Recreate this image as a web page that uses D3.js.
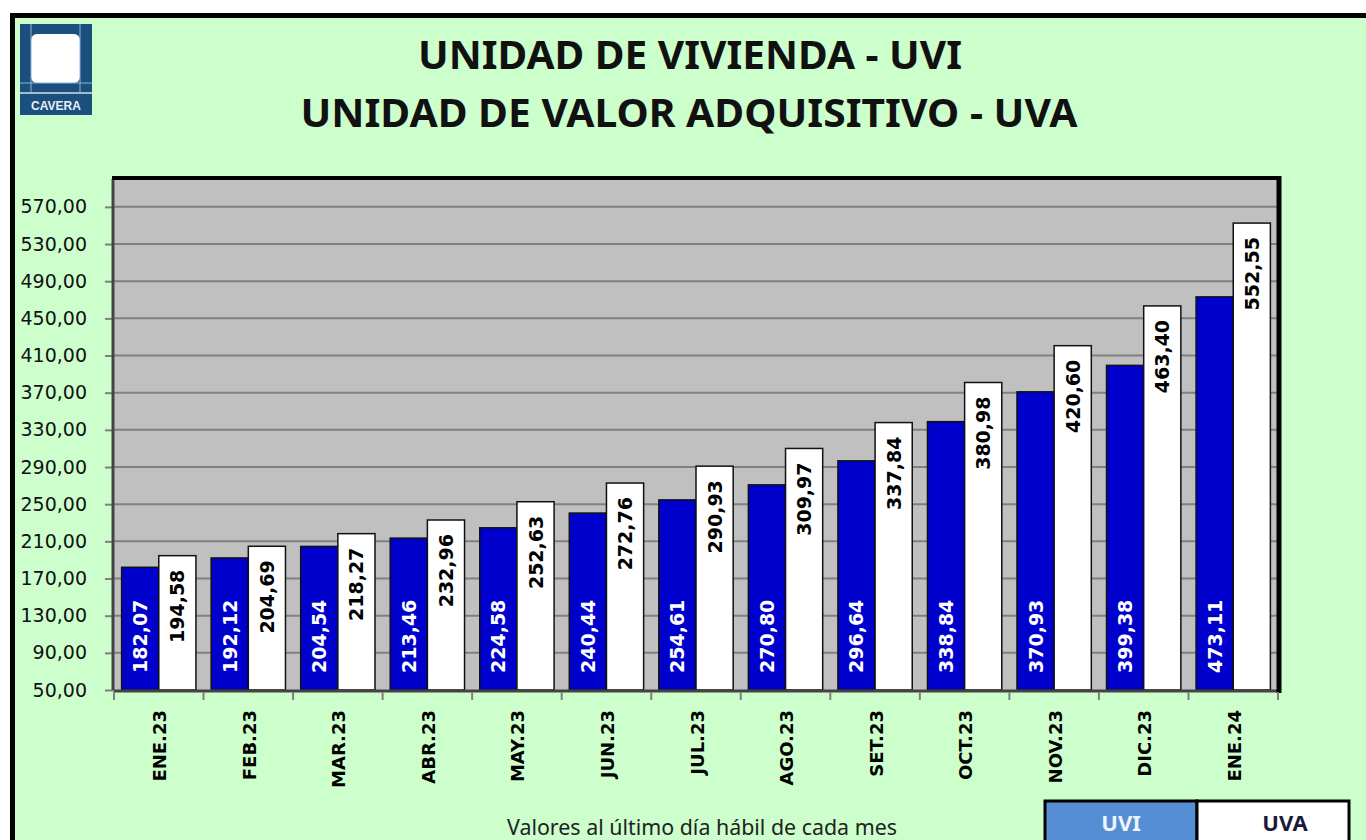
<!DOCTYPE html>
<html lang="es">
<head>
<meta charset="UTF-8">
<title>UVI - UVA</title>
<style>
    body { margin: 0; background: #fff; }
    svg { display: block; }
</style>
</head>
<body>
<script src="https://cdn.jsdelivr.net/npm/d3@7"></script>
<script>

    var meses = ['ENE.23', 'FEB.23', 'MAR.23', 'ABR.23', 'MAY.23', 'JUN.23', 'JUL.23',
        'AGO.23', 'SET.23', 'OCT.23', 'NOV.23', 'DIC.23', 'ENE.24'];
    var uvi = [182.07, 192.12, 204.54, 213.46, 224.58, 240.44, 254.61, 270.80, 296.64,
        338.84, 370.93, 399.38, 473.11];
    var uva = [194.58, 204.69, 218.27, 232.96, 252.63, 272.76, 290.93, 309.97, 337.84,
        380.98, 420.60, 463.40, 552.55];
    var yTicks = [50, 90, 130, 170, 210, 250, 290, 330, 370, 410, 450, 490, 530, 570];
    var series = ['UVI', 'UVA'];

    var width = 1366,
        height = 840;

    var plot = {left: 114, right: 1278, top: 179, bottom: 690};

    var svg = d3.select('body').append('svg')
        .attr('width', width)
        .attr('height', height);

    // fondo verde con borde grueso
    svg.append('rect')
        .attr('x', 12.5).attr('y', 15.5)
        .attr('width', 1370).attr('height', 860)
        .attr('fill', '#ccffcc')
        .attr('stroke', '#000')
        .attr('stroke-width', 5);

    // logo
    var logo = svg.append('g').attr('transform', 'translate(20,24)');
    logo.append('rect').attr('width', 72).attr('height', 91).attr('fill', '#1b4f7e');
    logo.append('rect').attr('x', 11).attr('y', 10).attr('width', 49).attr('height', 49)
        .attr('rx', 6).attr('fill', '#fff');
    logo.append('line').attr('x1', 11).attr('x2', 11).attr('y1', 0).attr('y2', 68)
        .attr('stroke', '#8fb4d6').attr('stroke-width', 1);
    logo.append('line').attr('x1', 0).attr('x2', 72).attr('y1', 59).attr('y2', 59)
        .attr('stroke', '#8fb4d6').attr('stroke-width', 1);
    logo.append('line').attr('x1', 60).attr('x2', 60).attr('y1', 0).attr('y2', 68)
        .attr('stroke', '#8fb4d6').attr('stroke-width', 1);
    logo.append('line').attr('x1', 0).attr('x2', 72).attr('y1', 69).attr('y2', 69)
        .attr('stroke', '#d0e0ee').attr('stroke-width', 1.5);
    logo.append('text').attr('x', 36).attr('y', 86)
        .attr('text-anchor', 'middle')
        .attr('font-family', 'Liberation Sans, Arial, sans-serif')
        .attr('font-weight', 'bold').attr('font-size', 12)
        .attr('fill', '#e8eef5')
        .text('CAVERA');

    // titulos
    svg.append('text')
        .attr('x', 690).attr('y', 69)
        .attr('text-anchor', 'middle')
        .attr('font-family', 'Noto Sans, sans-serif')
        .attr('font-weight', 'bold').attr('font-size', 39)
        .attr('textLength', 544).attr('lengthAdjust', 'spacingAndGlyphs')
        .attr('fill', '#111')
        .text('UNIDAD DE VIVIENDA - UVI');
    svg.append('text')
        .attr('x', 689).attr('y', 127)
        .attr('text-anchor', 'middle')
        .attr('font-family', 'Noto Sans, sans-serif')
        .attr('font-weight', 'bold').attr('font-size', 39)
        .attr('textLength', 777).attr('lengthAdjust', 'spacingAndGlyphs')
        .attr('fill', '#111')
        .text('UNIDAD DE VALOR ADQUISITIVO - UVA');

    // escalas
    var x = d3.scaleBand()
        .domain(meses)
        .range([plot.left, plot.right])
        .paddingInner(0.17)
        .paddingOuter(0.085);

    var xs = d3.scaleBand()
        .domain(series)
        .range([0, x.bandwidth()]);

    var y = d3.scaleLinear()
        .domain([50, 600])
        .range([plot.bottom, plot.top]);

    // area de grafico
    svg.append('rect')
        .attr('x', plot.left).attr('y', plot.top)
        .attr('width', plot.right - plot.left).attr('height', plot.bottom - plot.top)
        .attr('fill', '#c0c0c0');

    svg.append('g')
        .selectAll('line')
        .data(yTicks.slice(1))
        .enter()
        .append('line')
        .attr('x1', plot.left).attr('x2', plot.right)
        .attr('y1', d => y(d)).attr('y2', d => y(d))
        .attr('stroke', '#808080')
        .attr('stroke-width', 2);

    // ejes
    var yAxis = svg.append('g')
        .attr('transform', 'translate(' + plot.left + ',0)')
        .call(d3.axisLeft(y).tickValues(yTicks).tickSize(9).tickPadding(18)
            .tickFormat(d => d3.format('.2f')(d).replace('.', ',')));
    yAxis.select('.domain').remove();
    yAxis.selectAll('line').attr('stroke', '#808080').attr('stroke-width', 2);
    yAxis.selectAll('text')
        .attr('font-family', 'DejaVu Sans, Verdana, sans-serif')
        .attr('font-size', 19)
        .attr('fill', '#111');

    // barras
    var grupos = svg.append('g')
        .selectAll('g')
        .data(meses)
        .enter()
        .append('g')
        .attr('transform', d => 'translate(' + x(d) + ',0)');

    grupos.append('rect')
        .attr('x', xs('UVI'))
        .attr('y', (d, i) => y(uvi[i]))
        .attr('width', xs.bandwidth())
        .attr('height', (d, i) => plot.bottom - y(uvi[i]))
        .attr('fill', '#0000cc')
        .attr('stroke', '#111')
        .attr('stroke-width', 1.5);

    grupos.append('rect')
        .attr('x', xs('UVA'))
        .attr('y', (d, i) => y(uva[i]))
        .attr('width', xs.bandwidth())
        .attr('height', (d, i) => plot.bottom - y(uva[i]))
        .attr('fill', '#ffffff')
        .attr('stroke', '#111')
        .attr('stroke-width', 1.5);

    var fmt = v => d3.format('.2f')(v).replace('.', ',');

    grupos.append('text')
        .attr('transform', (d, i) => 'translate(' + (xs('UVI') + xs.bandwidth() / 2) + ',' + (plot.bottom - 17) + ') rotate(-90)')
        .attr('dominant-baseline', 'central')
        .attr('font-family', 'DejaVu Sans, Verdana, sans-serif')
        .attr('font-weight', 'bold').attr('font-size', 19)
        .attr('fill', '#fff')
        .text((d, i) => fmt(uvi[i]));

    grupos.append('text')
        .attr('transform', (d, i) => 'translate(' + (xs('UVA') + xs.bandwidth() / 2) + ',' + (y(uva[i]) + 14) + ') rotate(-90)')
        .attr('text-anchor', 'end')
        .attr('dominant-baseline', 'central')
        .attr('font-family', 'DejaVu Sans, Verdana, sans-serif')
        .attr('font-weight', 'bold').attr('font-size', 19)
        .attr('fill', '#000')
        .text((d, i) => fmt(uva[i]));

    // bordes del area
    svg.append('line')
        .attr('x1', plot.left - 1).attr('x2', plot.left - 1)
        .attr('y1', plot.top).attr('y2', plot.bottom)
        .attr('stroke', '#444').attr('stroke-width', 3);
    svg.append('line')
        .attr('x1', plot.left).attr('x2', plot.right)
        .attr('y1', plot.bottom + 1).attr('y2', plot.bottom + 1)
        .attr('stroke', '#444').attr('stroke-width', 3);
    svg.append('line')
        .attr('x1', plot.left - 2).attr('x2', plot.right + 2)
        .attr('y1', plot.top - 1).attr('y2', plot.top - 1)
        .attr('stroke', '#000').attr('stroke-width', 4);
    svg.append('line')
        .attr('x1', plot.right + 1).attr('x2', plot.right + 1)
        .attr('y1', plot.top - 3).attr('y2', plot.bottom + 3)
        .attr('stroke', '#000').attr('stroke-width', 5);

    // eje x
    var xTickPos = meses.map((d, i) => plot.left + i * (plot.right - plot.left) / meses.length)
        .concat([plot.right]);
    svg.append('g')
        .selectAll('line')
        .data(xTickPos)
        .enter()
        .append('line')
        .attr('x1', d => d).attr('x2', d => d)
        .attr('y1', plot.bottom + 2).attr('y2', plot.bottom + 10)
        .attr('stroke', '#808080').attr('stroke-width', 2);

    svg.append('g')
        .selectAll('text')
        .data(meses)
        .enter()
        .append('text')
        .attr('transform', d => 'translate(' + (x(d) + x.bandwidth() / 2 + 1) + ',' + (plot.bottom + 20) + ') rotate(-90)')
        .attr('text-anchor', 'end')
        .attr('dominant-baseline', 'central')
        .attr('font-family', 'DejaVu Sans, Verdana, sans-serif')
        .attr('font-weight', 'bold').attr('font-size', 18)
        .attr('fill', '#000')
        .text(d => d);

    // nota
    svg.append('text')
        .attr('x', 702).attr('y', 835)
        .attr('text-anchor', 'middle')
        .attr('font-family', 'Noto Sans, sans-serif')
        .attr('font-size', 21)
        .attr('textLength', 390).attr('lengthAdjust', 'spacingAndGlyphs')
        .attr('fill', '#222')
        .text('Valores al último día hábil de cada mes');

    // leyenda
    var leg = svg.append('g').attr('transform', 'translate(1045,801)');
    var legColors = ['#558ed5', '#ffffff'];
    var legText = ['#eef4fb', '#1a1a3a'];
    leg.selectAll('rect')
        .data(series)
        .enter()
        .append('rect')
        .attr('x', (d, i) => i * 152)
        .attr('y', 0)
        .attr('width', 152)
        .attr('height', 44)
        .attr('fill', (d, i) => legColors[i])
        .attr('stroke', '#000')
        .attr('stroke-width', 3);
    leg.selectAll('text')
        .data(series)
        .enter()
        .append('text')
        .attr('x', (d, i) => i * 152 + (i ? 88 : 76))
        .attr('y', 30)
        .attr('text-anchor', 'middle')
        .attr('font-family', 'Noto Sans, sans-serif')
        .attr('font-weight', 'bold').attr('font-size', 22)
        .attr('fill', (d, i) => legText[i])
        .text(d => d);
</script>
</body>
</html>
